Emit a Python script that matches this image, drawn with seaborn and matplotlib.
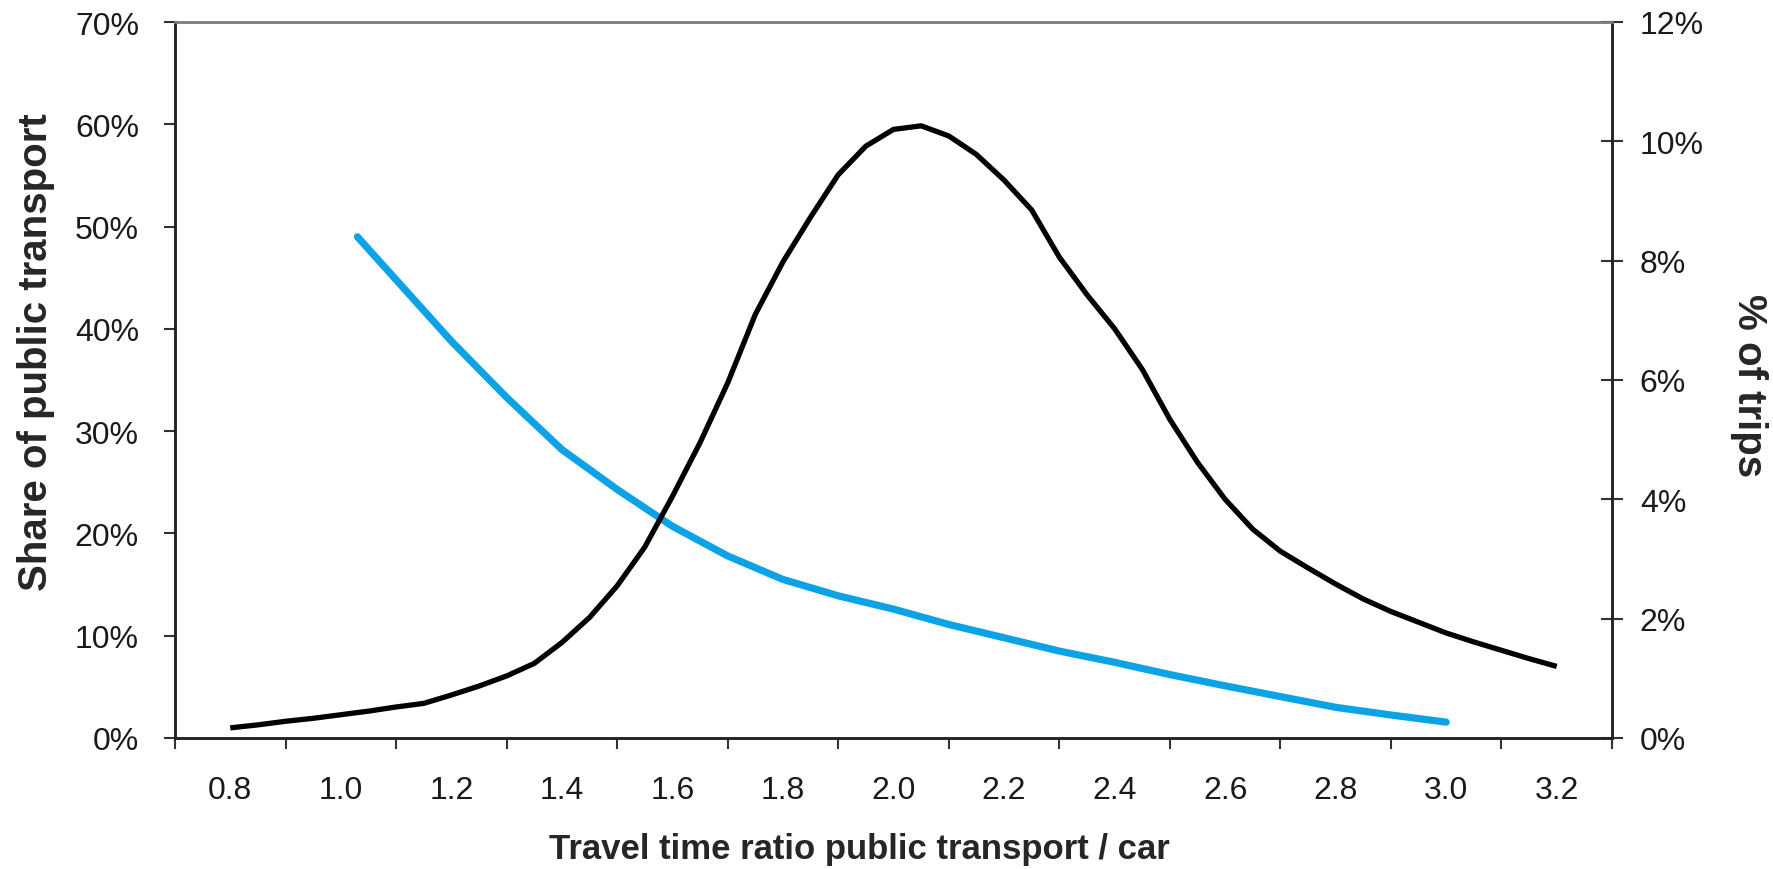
import matplotlib
matplotlib.use("Agg")
import matplotlib.pyplot as plt
from matplotlib.ticker import FixedLocator, FuncFormatter
import seaborn as sns
import pandas as pd

# ---- data ----
trips_ratio = [0.80, 0.85, 0.90, 0.95, 1.00, 1.05, 1.10, 1.15, 1.20, 1.25,
               1.30, 1.35, 1.40, 1.45, 1.50, 1.55, 1.60, 1.65, 1.70, 1.75,
               1.80, 1.85, 1.90, 1.95, 2.00, 2.05, 2.10, 2.15, 2.20, 2.25,
               2.30, 2.35, 2.40, 2.45, 2.50, 2.55, 2.60, 2.65, 2.70, 2.75,
               2.80, 2.85, 2.90, 2.95, 3.00, 3.05, 3.10, 3.15, 3.20]
trips_pct = [0.17, 0.22, 0.28, 0.33, 0.39, 0.45, 0.52, 0.58, 0.72, 0.87,
             1.04, 1.25, 1.60, 2.02, 2.55, 3.20, 4.05, 4.95, 5.95, 7.10,
             7.98, 8.73, 9.44, 9.92, 10.20, 10.26, 10.09, 9.78, 9.35, 8.85,
             8.06, 7.43, 6.86, 6.18, 5.34, 4.62, 4.00, 3.50, 3.13, 2.85,
             2.58, 2.33, 2.12, 1.94, 1.76, 1.61, 1.47, 1.33, 1.20]

share_ratio = [1.03, 1.10, 1.20, 1.30, 1.40, 1.50, 1.60, 1.70, 1.80, 1.90,
               2.00, 2.10, 2.20, 2.30, 2.40, 2.50, 2.60, 2.70, 2.80, 2.90, 3.00]
share_pct = [49.0, 44.8, 38.8, 33.3, 28.2, 24.3, 20.7, 17.8, 15.5, 13.9,
             12.6, 11.1, 9.8, 8.5, 7.4, 6.2, 5.1, 4.05, 3.0, 2.25, 1.55]

x_tick_labels = ["0.8", "1.0", "1.2", "1.4", "1.6", "1.8", "2.0",
                 "2.2", "2.4", "2.6", "2.8", "3.0", "3.2"]
x_label_pos = [0.8, 1.0, 1.2, 1.4, 1.6, 1.8, 2.0, 2.2, 2.4, 2.6, 2.8, 3.0, 3.2]
x_tick_marks = [0.7, 0.9, 1.1, 1.3, 1.5, 1.7, 1.9, 2.1, 2.3, 2.5, 2.7, 2.9, 3.1, 3.3]
left_ticks = [0, 10, 20, 30, 40, 50, 60, 70]
right_ticks = [0, 2, 4, 6, 8, 10, 12]

df_trips = pd.DataFrame({"ratio": trips_ratio, "pct": trips_pct})
df_share = pd.DataFrame({"ratio": share_ratio, "pct": share_pct})

sns.set_theme(style="white")
plt.rcParams["font.family"] = ["Liberation Sans", "DejaVu Sans"]

fig = plt.figure(figsize=(17.74, 8.70), dpi=100)
ax = fig.add_axes([175 / 1774, 1 - 739 / 870, (1612 - 175) / 1774, (739 - 23) / 870])
ax2 = ax.twinx()

sns.lineplot(data=df_share, x="ratio", y="pct", ax=ax, color="#0BA3E6",
             linewidth=5.2, solid_capstyle="round", solid_joinstyle="round", sort=False)
sns.lineplot(data=df_trips, x="ratio", y="pct", ax=ax2, color="black",
             linewidth=3.8, solid_capstyle="butt", solid_joinstyle="round", sort=False)

ax.set_xlim(0.7, 3.3)
ax.set_ylim(0, 70)
ax2.set_ylim(0, 12)

pct_fmt = FuncFormatter(lambda v, p: f"{v:.0f}%")
ax.yaxis.set_major_locator(FixedLocator(left_ticks))
ax.yaxis.set_major_formatter(pct_fmt)
ax2.yaxis.set_major_locator(FixedLocator(right_ticks))
ax2.yaxis.set_major_formatter(pct_fmt)

ax.xaxis.set_major_locator(FixedLocator(x_tick_marks))
ax.xaxis.set_major_formatter(FuncFormatter(lambda v, p: ""))
ax.xaxis.set_minor_locator(FixedLocator(x_label_pos))
ax.set_xticklabels(x_tick_labels, minor=True)

tick_color = "#1a1a1a"
ax.tick_params(axis="y", which="major", left=True, direction="out", length=8,
               width=1.5, color="#333333", labelsize=23, pad=18, labelcolor=tick_color)
ax.tick_params(axis="x", which="major", bottom=True, direction="out", length=8,
               width=1.5, color="#333333")
ax.tick_params(axis="x", which="minor", bottom=True, length=0, labelsize=23,
               pad=27, labelcolor=tick_color)
ax2.tick_params(axis="y", which="major", right=True, direction="inout", length=16,
                width=1.5, color="#333333", labelsize=23, pad=12, labelcolor=tick_color)

for a in (ax, ax2):
    for side, sp in a.spines.items():
        sp.set_visible(True)
        sp.set_linewidth(1.8)
        sp.set_color("#222222")
    a.spines["top"].set_color("#7f7f7f")
    a.grid(False)

ax.set_xlabel("Travel time ratio public transport / car", fontsize=25,
              fontweight="bold", va="center")
ax.xaxis.set_label_coords(0.476, -0.154)
ax.set_ylabel("Share of public transport", fontsize=29, fontweight="bold",
              rotation=90, va="center", ha="center")
ax.yaxis.set_label_coords(-0.097, 0.54)
ax2.set_ylabel("% of trips", fontsize=29, fontweight="bold", rotation=-90,
               va="center", ha="center")
ax2.yaxis.set_label_coords(1.095, 0.494)

fig.savefig("out.png", dpi=100, facecolor="white")
